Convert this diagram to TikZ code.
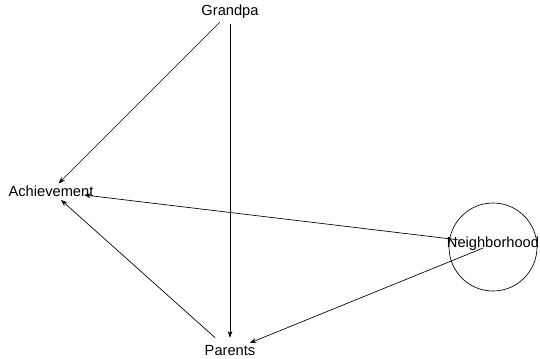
\documentclass[tikz,border=0pt]{standalone}
\usepackage{fontspec}
\setmainfont{Liberation Sans}
\usetikzlibrary{arrows.meta}

\begin{document}
\begin{tikzpicture}[x=0.75pt, y=-0.75pt,
    var/.style={inner sep=0pt, font=\fontsize{11}{13}\selectfont},
    edge/.style={line width=0.5pt, -{Stealth[length=5pt, width=3.6pt]}}]
    \useasboundingbox (0, 0) rectangle (540, 358);
    % variables
    \node [var] (grandpa)      at (230, 12)  {Grandpa};
    \node [var] (achievement)  at (51, 191)  {Achievement};
    \node [var] (neighborhood) at (493, 244) {Neighborhood};
    \node [var] (parents)      at (230, 351) {Parents};
    \draw [line width=0.5pt] (493, 247) circle (44);
    % paths from Grandpa
    \draw [edge, shorten <=11pt, shorten >=8pt]  (grandpa.center) -- (achievement.center);
    \draw [edge, shorten <=9pt, shorten >=10pt]  (grandpa.center) -- (parents.center);
    % paths from Neighborhood
    \draw [edge, shorten <=26pt, shorten >=25pt] (neighborhood.center) -- (achievement.center);
    \draw [edge, shorten <=8pt, shorten >=16pt]  (neighborhood.center) -- (parents.center);
    % path from Parents
    \draw [edge, shorten <=15pt, shorten >=10pt] (parents.center) -- (achievement.center);
\end{tikzpicture}
\end{document}
